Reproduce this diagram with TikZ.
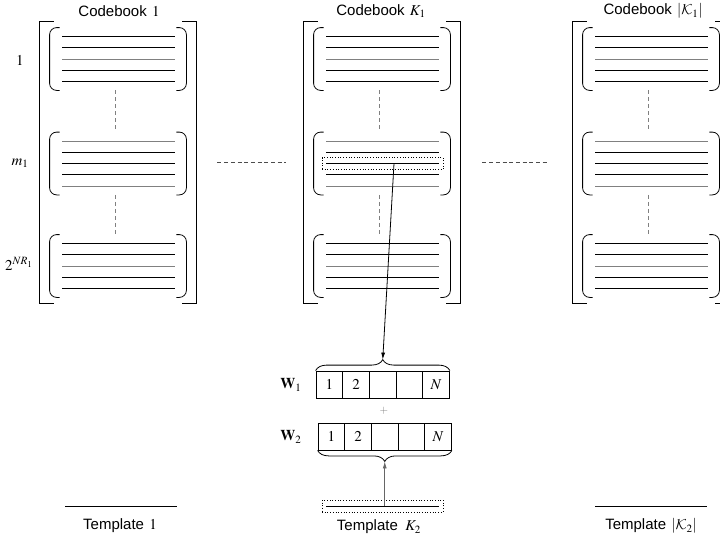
\documentclass[tikz,border=0pt]{standalone}
\usepackage{mathptmx}
\usepackage[no-math]{fontspec}
\setmainfont{Liberation Serif}
\setsansfont{Liberation Sans}
\DeclareMathAlphabet{\mathcal}{OMS}{cmsy}{m}{n}
\usetikzlibrary{arrows.meta,positioning,decorations.pathreplacing}
\definecolor{entrygray}{RGB}{128,128,128}

\begin{document}
\begin{tikzpicture}[x=1pt,y=-1pt,line width=0.8pt,
  every node/.style={font=\fontsize{15}{18}\selectfont},
  ttl/.style={font=\fontsize{15}{18}\selectfont\sffamily},
  cbox/.style={minimum width=156pt,minimum height=281pt,inner sep=0pt},
  blk/.style={minimum width=136pt,minimum height=62pt,inner sep=0pt},
  sel/.style={draw,dotted,line width=0.7pt,minimum width=121pt,minimum height=12pt,inner sep=0pt},
  cell/.style={draw,minimum width=26.7pt,minimum height=27pt,inner sep=0pt},
  brc/.style={decorate,decoration={brace,amplitude=11pt}},
  arr/.style={-{Latex[length=7pt,width=4pt]}},
  vdash/.style={entrygray,dash pattern=on 4pt off 3pt},
  hdash/.style={black!70,dash pattern=on 4pt off 2.7pt}
]
\clip (0,0) rectangle (720,544);

% Codebooks with their entry blocks
\foreach \cb/\x in {cb1/118,cbk/382,cbn/651} {
  \node[cbox] (\cb) at (\x,162.5) {};
  \draw[line width=1pt] ([xshift=14pt]\cb.north west) -- (\cb.north west) -- (\cb.south west) -- ([xshift=14pt]\cb.south west);
  \draw[line width=1pt] ([xshift=-14pt]\cb.north east) -- (\cb.north east) -- (\cb.south east) -- ([xshift=-14pt]\cb.south east);
  \foreach \r/\y/\cols in {1/59/{black,black,entrygray,black,black},2/163.5/{entrygray,black,black,black,entrygray},3/266/{black,black,entrygray,black,black}} {
    \node[blk] (\cb-r\r) at (\x,\y) {};
    \draw[rounded corners=7pt] ([xshift=10pt]\cb-r\r.north west) -- (\cb-r\r.north west) -- (\cb-r\r.south west) -- ([xshift=10pt]\cb-r\r.south west);
    \draw[rounded corners=7pt] ([xshift=-10pt]\cb-r\r.north east) -- (\cb-r\r.north east) -- (\cb-r\r.south east) -- ([xshift=-10pt]\cb-r\r.south east);
    \foreach \col [count=\k from 0] in \cols
      \draw[\col] ({\x-56},{\y-22.5+11.25*\k}) -- ({\x+57},{\y-22.5+11.25*\k});
  }
  \draw[vdash] ([xshift=-3pt]\cb-r1.south) -- ([xshift=-3pt]\cb-r2.north);
  \draw[vdash] ([xshift=-3pt]\cb-r2.south) -- ([xshift=-3pt]\cb-r3.north);
}

% Titles and row indices
\node[ttl] (cb1t) at (119,11) {Codebook\hspace{0.35em}$1$};
\node[ttl] (cbkt) at (381,11) {Codebook\hspace{0.35em}$K_1$};
\node[ttl] (cbnt) at (653,11) {Codebook\hspace{0.35em}$\left|\mathcal{K}_1\right|$};
\node (lab1) at (20,60) {$1$};
\node (labm) at (20,163) {$m_1$};
\node (labn) at (19,264) {$2^{NR_1}$};

\draw[hdash] ([xshift=21pt]cb1.east) -- ([xshift=-18pt]cbk.west);
\draw[hdash] ([xshift=22pt]cbk.east) -- ([xshift=-24pt]cbn.west);

% Chosen codeword
\node[sel] (pick) at (382.5,163.5) {};
\coordinate (pickpt) at (394,163.5);

% Vectors
\foreach \t [count=\i] in {1,2,{},{},N} {
  \node[cell] (wa\i) at ({316+26.7*(\i-0.5)},384.5) {$\t$};
  \node[cell] (wb\i) at ({318+26.7*(\i-0.5)},436.5) {$\t$};
}
\node (wl1) at (291,385) {$\mathbf{W}_1$};
\node (wl2) at (291,437) {$\mathbf{W}_2$};
\node[font=\fontsize{11}{13}\selectfont,entrygray] (plus) at (384,411) {$+$};

\draw[brc] (wa1.north west) -- (wa5.north east) coordinate[midway,yshift=11pt] (w1tip);
\draw[brc] (wb5.south east) -- (wb1.south west) coordinate[midway,yshift=-11pt] (w2tip);

% Templates
\node[sel] (tmpl) at (382.5,506) {};
\draw (326,506) -- (439,506);
\draw (65,506) -- (177,506);
\draw (595,506) -- (707,506);
\node[ttl] (tpl1) at (120,526) {Template\hspace{0.35em}$1$};
\node[ttl] (tplk) at (379,527) {Template\hspace{0.5em}$K_2$};
\node[ttl] (tpln) at (651,526) {Template\hspace{0.35em}$\left|\mathcal{K}_2\right|$};

\draw[arr] (pickpt) -- (w1tip);
\draw[arr,black!60] (tmpl.center -| w2tip) -- (w2tip);
\end{tikzpicture}
\end{document}
